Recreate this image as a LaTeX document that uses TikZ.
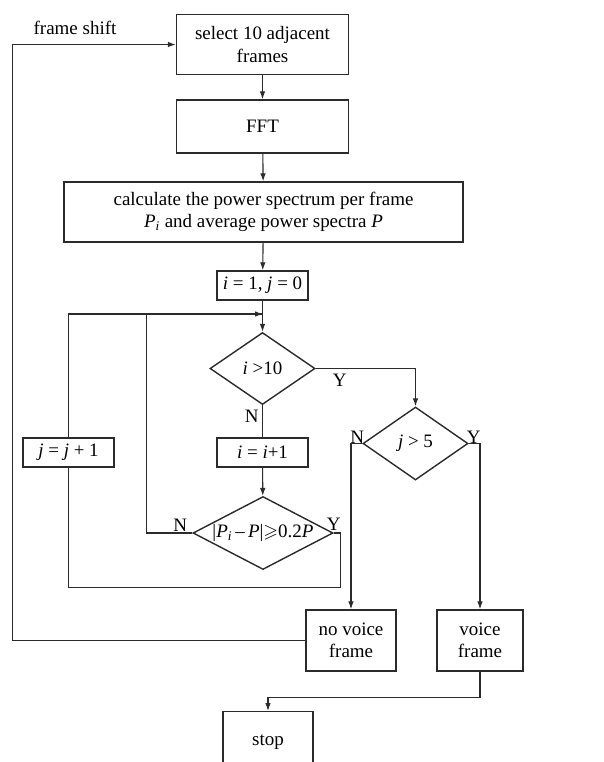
\documentclass[tikz,border=0pt]{standalone}
\usepackage{amssymb}
\usepackage{fontspec}
\setmainfont{Liberation Serif}
\usepackage{tikz}
\usetikzlibrary{arrows.meta,positioning,shapes.geometric,calc}
\definecolor{ink}{HTML}{2B2B2B}
\newcommand{\vi}[1]{\textit{#1}}

\begin{document}
\begin{tikzpicture}[x=0.25mm,y=-0.25mm,
  font=\fontsize{13.5}{16}\selectfont,
  box/.style={draw=ink,line width=1pt,align=center,inner sep=1pt,minimum width=43mm,minimum height=15mm},
  small/.style={box,minimum width=22.75mm,minimum height=7.25mm},
  dec/.style={diamond,draw=ink,line width=1pt,inner sep=0pt,aspect=1.9,minimum width=26.25mm,minimum height=18mm},
  lbl/.style={font=\fontsize{13.5}{16}\selectfont},
  line/.style={draw=ink,line width=0.8pt},
  arr/.style={line,-{Latex[length=2mm,width=1.4mm]}}]
  \clip (0,0) rectangle (604,762);
  % main column
  \node[box] (sel) at (262.5,44.5) {select 10 adjacent\\frames};
  \node[box,minimum height=13.25mm] (fft) at (262.5,126.5) {FFT};
  \node[box,minimum width=99.75mm] (pow) at (263.5,212) {calculate the power spectrum per frame\\\vi{P}\textsubscript{\vi{i}} and average power spectra \vi{P}};
  \node[small] (init) at (262.5,285.5) {\vi{i} = 1, \vi{j} = 0};
  \node[dec] (gti) at (262.5,368.5) {\vi{i} >10};
  \node[small] (inci) at (262.5,452.5) {\vi{i} = \vi{i}+1};
  \node[dec,minimum width=35mm,minimum height=18.25mm] (cmp) at (263,533) {|\vi{P}\textsubscript{\vi{i}}\,--\,\vi{P}|$\geqslant$0.2\vi{P}};
  % left loop
  \node[small] (incj) at (68.5,452.5) {\vi{j} = \vi{j} + 1};
  \coordinate (loop) at (263,314);
  % right branch
  \node[dec,minimum height=18.25mm] (gtj) at (415.5,443.5) {\vi{j} > 5};
  \node[box,minimum width=22.5mm,minimum height=15.25mm] (novoice) at (351,640.5) {no voice\\frame};
  \node[box,minimum width=21.5mm,minimum height=15.25mm] (voice) at (480,640.5) {voice\\frame};
  \node[box,minimum width=22.5mm,minimum height=15mm,anchor=north] (stop) at (268,711) {stop};
  \node[lbl] (shift) at (75,28) {frame shift};

  \draw[arr] (sel) -- (fft);
  \draw[arr] (fft) -- (pow);
  \draw[arr] (pow) -- (init);
  \draw[arr] (init) -- (gti);
  \draw[line] (gti) -- node[lbl,pos=0.35,left=-1pt] {N} (inci);
  \draw[arr] (inci) -- (cmp);
  \draw[arr] (gti.east) -| node[lbl,pos=0.12,below] {Y} (gtj.north);
  \draw[line] (cmp.west) node[lbl,above left=-3pt and 0pt] {N} -- ++(-46,0) |- (loop);
  \draw[line] (cmp.east) node[lbl,above=-2pt] {Y} -- ++(7,0) |- ($(incj.south)+(0,120)$) -- (incj.south);
  \draw[arr] (incj.north) |- (loop);
  \draw[arr] (gtj.west) node[lbl,above left=-4pt and -5pt] {N} -| (novoice.north);
  \draw[arr] (gtj.east) node[lbl,above right=-4pt and -5pt] {Y} -| (voice.north);
  \draw[arr] (novoice.west) -- ++(-293,0) |- (sel.west);
  \draw[arr] (voice.south) -- ++(0,26) -| (stop.north);
\end{tikzpicture}
\end{document}
